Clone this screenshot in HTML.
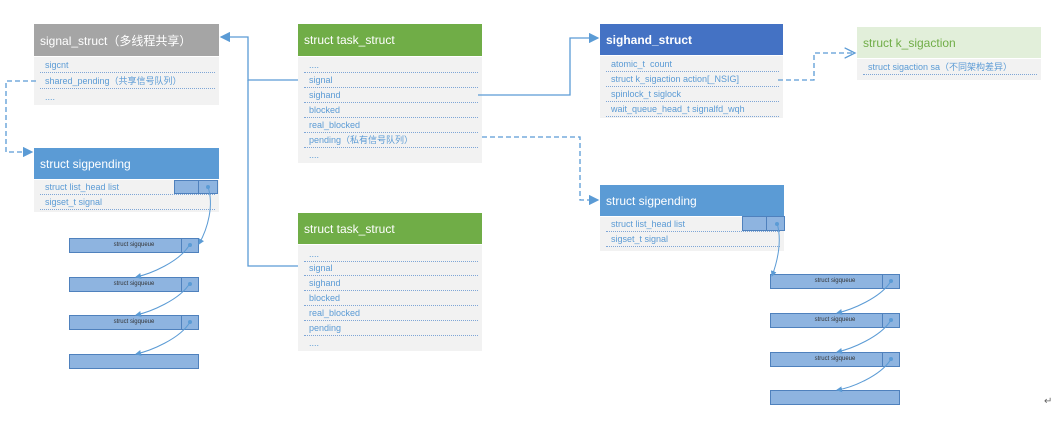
<!DOCTYPE html>
<html><head><meta charset="utf-8"><style>
body{margin:0;width:1054px;height:422px;background:#fff;position:relative;overflow:hidden;font-family:"Liberation Sans","Noto Sans CJK SC",sans-serif}
.b{position:absolute}
.h{position:absolute;color:#fff;font-size:12px;padding-left:6px;box-sizing:border-box;display:flex;align-items:center}
.bd{position:absolute;background:#f2f2f2}
.r{position:absolute;left:6px;right:4px;font-size:9px;color:#5b9bd5;padding-left:5px;border-bottom:1px dotted #7fa6d6;box-sizing:border-box;height:15px;line-height:14px;white-space:nowrap}
.q{position:absolute;background:#8eb4e0;border:1px solid #4f81bd;box-sizing:border-box;font-size:6px;color:#333;text-align:center;line-height:13px}
.q i{position:absolute;right:0;top:0;bottom:0;width:16px;border-left:1px solid #4f81bd}
</style></head><body>
<div class="h" style="left:34px;top:24px;width:185px;height:32px;background:#a5a5a5">signal_struct（多线程共享）</div>
<div class="bd" style="left:34px;top:57px;width:185px;height:48px">
<div class="r" style="top:1px">sigcnt</div>
<div class="r" style="top:17px">shared_pending（共享信号队列）</div>
<div class="r" style="top:33px;border:none">....</div></div>
<div class="h" style="left:34px;top:148px;width:185px;height:31px;background:#5b9bd5">struct sigpending</div>
<div class="bd" style="left:34px;top:180px;width:185px;height:32px">
<div class="r" style="top:0px">struct list_head list</div>
<div class="r" style="top:15px">sigset_t signal</div></div>
<div class="q" style="left:174px;top:180px;width:44px;height:14px"><i style="width:18px"></i></div>
<div class="q" style="left:69px;top:238px;width:130px;height:15px">struct sigqueue<i></i></div>
<div class="q" style="left:69px;top:277px;width:130px;height:15px">struct sigqueue<i></i></div>
<div class="q" style="left:69px;top:315px;width:130px;height:15px">struct sigqueue<i></i></div>
<div class="q" style="left:69px;top:354px;width:130px;height:15px"></div>
<div class="h" style="left:298px;top:24px;width:184px;height:32px;background:#70ad47">struct task_struct</div>
<div class="bd" style="left:298px;top:57px;width:184px;height:106px">
<div class="r" style="top:1px">....</div>
<div class="r" style="top:16px">signal</div>
<div class="r" style="top:31px">sighand</div>
<div class="r" style="top:46px">blocked</div>
<div class="r" style="top:61px">real_blocked</div>
<div class="r" style="top:76px">pending（私有信号队列）</div>
<div class="r" style="top:91px;border:none">....</div></div>
<div class="h" style="left:298px;top:213px;width:184px;height:31px;background:#70ad47">struct task_struct</div>
<div class="bd" style="left:298px;top:245px;width:184px;height:106px">
<div class="r" style="top:2px">....</div>
<div class="r" style="top:16px">signal</div>
<div class="r" style="top:31px">sighand</div>
<div class="r" style="top:46px">blocked</div>
<div class="r" style="top:61px">real_blocked</div>
<div class="r" style="top:76px">pending</div>
<div class="r" style="top:91px;border:none">....</div></div>
<div class="h" style="left:600px;top:24px;width:183px;height:31px;background:#4472c4;font-weight:bold">sighand_struct</div>
<div class="bd" style="left:600px;top:56px;width:183px;height:62px">
<div class="r" style="top:1px">atomic_t&nbsp; count</div>
<div class="r" style="top:16px">struct k_sigaction action[_NSIG]</div>
<div class="r" style="top:31px">spinlock_t siglock</div>
<div class="r" style="top:46px">wait_queue_head_t signalfd_wqh</div></div>
<div class="h" style="left:857px;top:27px;width:184px;height:31px;background:#e2efda;color:#70ad47">struct k_sigaction</div>
<div class="bd" style="left:857px;top:59px;width:184px;height:21px">
<div class="r" style="top:1px">struct sigaction sa（不同架构差异）</div></div>
<div class="h" style="left:600px;top:185px;width:184px;height:31px;background:#5b9bd5">struct sigpending</div>
<div class="bd" style="left:600px;top:217px;width:184px;height:34px">
<div class="r" style="top:0px">struct list_head list</div>
<div class="r" style="top:15px">sigset_t signal</div></div>
<div class="q" style="left:742px;top:216px;width:43px;height:15px"><i style="width:17px"></i></div>
<div class="q" style="left:770px;top:274px;width:130px;height:15px">struct sigqueue<i></i></div>
<div class="q" style="left:770px;top:313px;width:130px;height:15px">struct sigqueue<i></i></div>
<div class="q" style="left:770px;top:352px;width:130px;height:15px">struct sigqueue<i></i></div>
<div class="q" style="left:770px;top:390px;width:130px;height:15px"></div>
<div class="b" style="left:1044px;top:396px;font-size:10px;color:#666">↵</div>
<svg class="b" style="left:0;top:0" width="1054" height="422">
<defs><marker id="a" markerWidth="8" markerHeight="8" refX="7" refY="4" orient="auto"><path d="M0,0L8,4L0,8z" fill="#5b9bd5"/></marker>
<marker id="s" markerWidth="6" markerHeight="6" refX="5" refY="3" orient="auto"><path d="M0,0L6,3L0,6z" fill="#5b9bd5"/></marker>
<marker id="o" markerWidth="10" markerHeight="10" refX="8" refY="5" orient="auto"><path d="M0,1L8,5L0,9" fill="none" stroke="#5b9bd5"/></marker></defs>
<g fill="none" stroke="#5b9bd5" stroke-width="1.3">
<path d="M298,80H248V37H221" marker-end="url(#a)"/>
<path d="M298,266H248V80"/>
<path d="M478,95H570V38H598" marker-end="url(#a)"/>
<path d="M482,137H580V200H598" stroke-dasharray="5,3" marker-end="url(#a)"/>
<path d="M36,81H6V152H32" stroke-dasharray="5,3" marker-end="url(#a)"/>
<path d="M778,80H814V53H855" stroke-dasharray="5,3" marker-end="url(#o)"/>
<g stroke-width="1">
<path d="M208,187C214,205 208,228 199,244" marker-end="url(#s)"/>
<path d="M190,244C180,262 150,274 136,277" marker-end="url(#s)"/>
<path d="M190,283C180,300 150,312 136,315" marker-end="url(#s)"/>
<path d="M190,322C180,339 150,351 136,354" marker-end="url(#s)"/>
<path d="M777,223C782,240 778,260 772,276" marker-end="url(#s)"/>
<path d="M891,281C881,298 851,310 837,313" marker-end="url(#s)"/>
<path d="M891,320C881,337 851,349 837,352" marker-end="url(#s)"/>
<path d="M891,359C881,376 851,388 837,390" marker-end="url(#s)"/>
</g></g>
<g fill="#5b9bd5"><circle cx="208" cy="187" r="2"/><circle cx="190" cy="245" r="2"/><circle cx="190" cy="284" r="2"/><circle cx="190" cy="322" r="2"/><circle cx="777" cy="224" r="2"/><circle cx="891" cy="281" r="2"/><circle cx="891" cy="320" r="2"/><circle cx="891" cy="359" r="2"/></g>
</svg>
</body></html>
